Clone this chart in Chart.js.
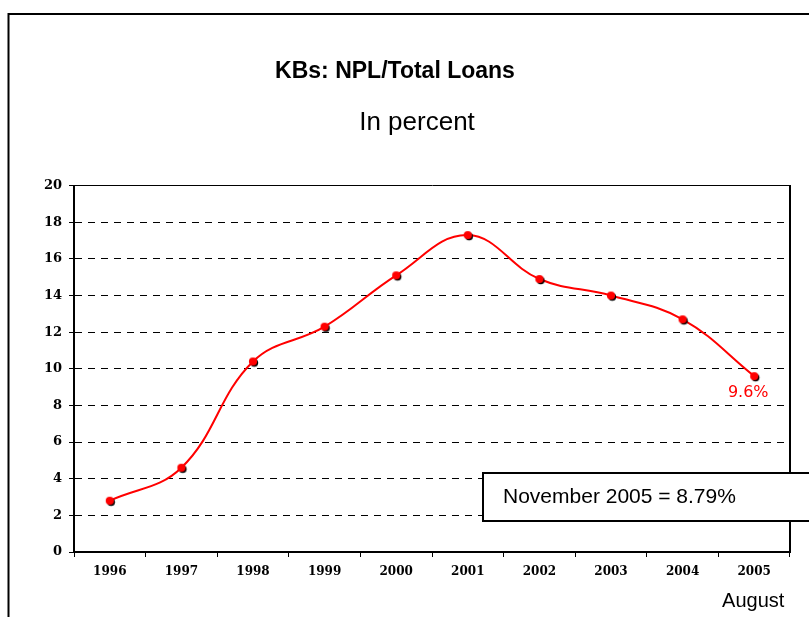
<!DOCTYPE html>
<html>
<head>
<meta charset="utf-8">
<script src="https://cdn.jsdelivr.net/npm/chart.js@4/dist/chart.umd.min.js"></script>
<style>
  html, body { margin: 0; padding: 0; background: #fff; }
  #wrap { position: relative; width: 809px; height: 617px; }
</style>
</head>
<body>
<div id="wrap"><canvas id="nplChart" width="809" height="617"></canvas></div>
<script>
// chart data
const years = ['1996', '1997', '1998', '1999', '2000', '2001', '2002', '2003', '2004', '2005'];
const nplRatio = [2.8, 4.6, 10.4, 12.3, 15.1, 17.3, 14.9, 14.0, 12.7, 9.6];
const yTicks = [0, 2, 4, 6, 8, 10, 12, 14, 16, 18, 20];
const subTitle = 'In percent';
const lastLabel = '9.6%';
const noteText = 'November 2005 = 8.79%';
const monthText = 'August';

// red dot with a small black shadow, used as point style
function makeDot() {
  const c = document.createElement('canvas');
  c.width = 14;
  c.height = 14;
  const g = c.getContext('2d');
  g.fillStyle = '#000';
  g.beginPath();
  g.arc(8.3, 8.3, 3.9, 0, Math.PI * 2);
  g.fill();
  g.fillStyle = '#ff0000';
  g.beginPath();
  g.arc(7, 7, 4.1, 0, Math.PI * 2);
  g.fill();
  return c;
}

// extra drawings: frame, subtitle, last value label, note box, month label
const extras = {
  id: 'extras',
  afterDraw(chart) {
    const ctx = chart.ctx;
    const x = chart.scales.x;
    const y = chart.scales.y;
    const last = nplRatio.length - 1;
    const px = x.getPixelForValue(last);
    const py = y.getPixelForValue(nplRatio[last]);

    ctx.save();
    // outer frame
    ctx.strokeStyle = '#000';
    ctx.lineWidth = 2;
    ctx.beginPath();
    ctx.moveTo(8.5, 617);
    ctx.lineTo(8.5, 14);
    ctx.lineTo(812, 14);
    ctx.stroke();

    // subtitle (sits a bit right of the title in the original)
    ctx.fillStyle = '#000';
    ctx.font = '26px "Liberation Sans", Arial';
    ctx.textAlign = 'center';
    ctx.textBaseline = 'middle';
    ctx.fillText(subTitle, 417, 123);

    // last value
    ctx.fillStyle = '#ff0000';
    ctx.font = '16px "DejaVu Sans"';
    ctx.fillText(lastLabel, px - 6, py + 17);

    // note box
    ctx.fillStyle = '#fff';
    ctx.fillRect(483, 473, 340, 48);
    ctx.strokeStyle = '#000';
    ctx.lineWidth = 2;
    ctx.strokeRect(483, 473, 340, 48);
    ctx.fillStyle = '#000';
    ctx.font = '21px "Liberation Sans", Arial';
    ctx.textAlign = 'left';
    ctx.fillText(noteText, 503, 497);

    // month under last year
    ctx.font = '20px "Liberation Sans", Arial';
    ctx.textAlign = 'center';
    ctx.fillText(monthText, px - 1, 601);
    ctx.restore();
  }
};

const ctx = document.getElementById('nplChart').getContext('2d');
const nplChart = new Chart(ctx, {
  type: 'line',
  data: {
    labels: years,
    datasets: [
      {
        label: 'NPL/Total Loans',
        data: nplRatio,
        borderColor: '#ff0000',
        borderWidth: 2,
        tension: 0.4,
        fill: false,
        pointStyle: makeDot(),
        pointRadius: 4,
        pointHoverRadius: 4,
      },
    ],
  },
  options: {
    responsive: false,
    animation: false,
    events: [],
    layout: {
      padding: { left: 0, right: 19, top: 0, bottom: 0 },
    },
    plugins: {
      legend: { display: false },
      tooltip: { enabled: false },
      title: {
        display: true,
        text: 'KBs: NPL/Total Loans',
        color: '#000',
        font: { family: '"Liberation Sans", Arial', size: 23, weight: 'bold' },
        padding: { top: 58, bottom: 100 },
      },
    },
    scales: {
      x: {
        offset: true,
        grid: {
          offset: true,
          drawOnChartArea: false,
          drawTicks: true,
          tickLength: 5,
          tickColor: '#000',
          tickWidth: 1,
        },
        border: { display: true, color: '#000', width: 2 },
        ticks: {
          color: '#000',
          padding: 8,
          maxRotation: 0,
          font: { family: '"DejaVu Serif"', size: 12, weight: 'bold' },
        },
        afterFit(scale) { scale.height = 65; },
      },
      y: {
        min: 0,
        max: 20,
        afterBuildTicks(scale) {
          scale.ticks = yTicks.map(v => ({ value: v }));
        },
        grid: {
          color: '#000',
          lineWidth: 1,
          tickLength: 5,
          tickColor: '#000',
          tickBorderDash: [],
        },
        border: {
          display: true,
          color: '#000',
          width: 2,
          dash: c => (c.tick && (c.tick.value === 20 || c.tick.value === 0) ? [] : [7, 6]),
        },
        ticks: {
          color: '#000',
          padding: 7,
          font: { family: '"DejaVu Serif"', size: 13, weight: 'bold' },
        },
        afterFit(scale) { scale.width = 74; },
      },
      yRight: {
        position: 'right',
        min: 0,
        max: 20,
        grid: { drawOnChartArea: false, drawTicks: false },
        border: { display: true, color: '#000', width: 2 },
        ticks: { display: false },
        afterFit(scale) { scale.width = 0; },
      },
    },
  },
  plugins: [extras],
});
</script>
</body>
</html>
